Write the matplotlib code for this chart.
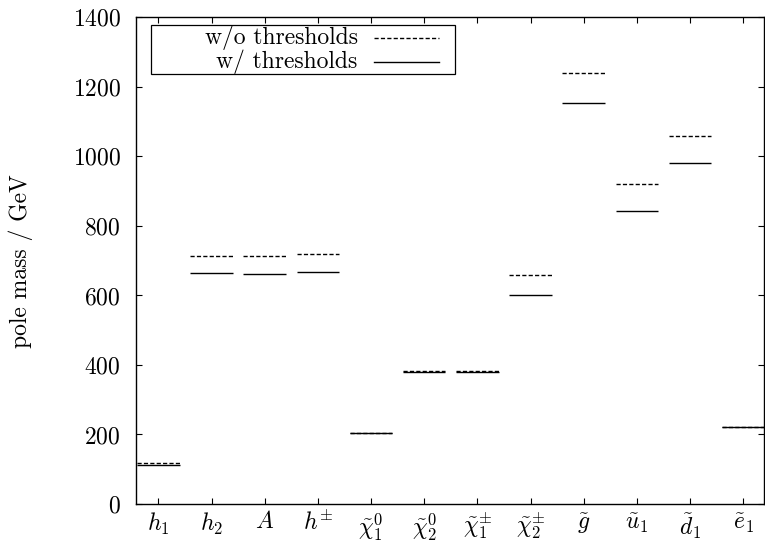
import matplotlib
matplotlib.use("Agg")
import matplotlib.pyplot as plt
from matplotlib.lines import Line2D
from matplotlib.patches import Rectangle

plt.rcParams["font.family"] = ["cmr10", "DejaVu Serif"]
plt.rcParams["mathtext.fontset"] = "cm"
plt.rcParams["axes.formatter.use_mathtext"] = True
plt.rcParams["axes.unicode_minus"] = False

# Particle labels and pole masses (GeV)
particles = [r"$h_1$", r"$h_2$", r"$A$", r"$h^{\pm}$",
             r"$\tilde{\chi}_1^0$", r"$\tilde{\chi}_2^0$",
             r"$\tilde{\chi}_1^{\pm}$", r"$\tilde{\chi}_2^{\pm}$",
             r"$\tilde{g}$", r"$\tilde{u}_1$", r"$\tilde{d}_1$", r"$\tilde{e}_1$"]
mass_without_thresholds = [117, 713, 713, 719, 204, 384, 384, 658, 1239, 920, 1059, 221]
mass_with_thresholds = [112, 664, 663, 668, 203, 381, 381, 600, 1154, 843, 980, 221]
y_ticks = [0, 200, 400, 600, 800, 1000, 1200, 1400]

FS = 17

fig = plt.figure(figsize=(7.65, 5.42), dpi=100)
ax = fig.add_axes([0.1778, 0.0701, 0.8209, 0.8978])

positions = list(range(1, len(particles) + 1))
half = 0.4
dash = (0, (3.0, 1.6))

ax.hlines(mass_with_thresholds, [p - half for p in positions], [p + half for p in positions],
          colors="black", linewidth=1.0, linestyles="solid", zorder=2)
ax.hlines(mass_without_thresholds, [p - half for p in positions], [p + half for p in positions],
          colors="black", linewidth=1.0, linestyles=[dash], zorder=3)

ax.set_xlim(0.58, 12.39)
ax.set_ylim(0, 1400)
ax.set_xticks(positions)
ax.set_xticklabels(particles)
ax.set_yticks(y_ticks)
ax.tick_params(axis="both", direction="in", length=4.3, width=0.8,
               top=True, right=True, labelsize=FS)
ax.tick_params(axis="y", pad=11)
ax.tick_params(axis="x", pad=5)
for s in ax.spines.values():
    s.set_linewidth(1.0)

ax.set_ylabel("pole mass / GeV", fontsize=FS)
ax.yaxis.set_label_coords(-0.164, 0.5)

# Key box with right-justified entries
ax.add_patch(Rectangle((0.0234, 0.883), 0.4846, 0.102, transform=ax.transAxes,
                       facecolor="white", edgecolor="black", linewidth=0.9, zorder=5))
key_rows = [("w/o thresholds", dash, 0.9575), ("w/ thresholds", "solid", 0.908)]
for text, style, yy in key_rows:
    ax.text(0.353, yy, text, transform=ax.transAxes, ha="right", va="center",
            fontsize=FS, zorder=6)
    ax.add_line(Line2D([0.379, 0.4825], [yy, yy], transform=ax.transAxes,
                       color="black", linewidth=1.0, linestyle=style, zorder=6))

fig.savefig("out.png", dpi=100)
